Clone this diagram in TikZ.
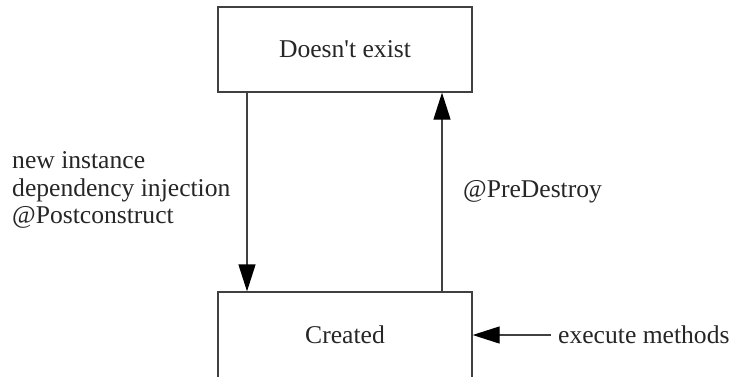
\documentclass[tikz,border=0pt]{standalone}
\usepackage{fontspec}
\setmainfont{Liberation Serif}
\usetikzlibrary{arrows.meta}

\begin{document}
\begin{tikzpicture}[x=1pt, y=-1pt,
    every node/.style={font=\fontsize{25.6}{27.5}\selectfont, text=black!85},
    statebox/.style={draw=black!75, line width=1.3pt, minimum width=254pt, inner sep=0pt},
    flow/.style={-{Triangle[length=27pt, width=17pt, color=black]}, line width=1.3pt, draw=black!75}]
    \useasboundingbox (0,0) rectangle (734,376);

    % The two states, the lower one runs past the bottom edge
    \node[statebox, minimum height=85pt] (none) at (345, 49.5) {Doesn\textquotesingle t exist};
    \node[statebox, minimum height=86pt] (created) at (345, 335) {Created};

    % Transition labels
    \node[anchor=west, align=left, inner sep=0pt] (createlbl) at (12, 190) {new instance\\dependency injection\\@Postconstruct};
    \node[anchor=west, inner sep=0pt] (destroylbl) at (463, 192) {@PreDestroy};
    \node[anchor=west, inner sep=0pt] (exec) at (558, 335) {execute methods};

    % Transitions
    \draw[flow] ([xshift=-98pt]none.south) -- ([xshift=-98pt]created.north);
    \draw[flow] ([xshift=97pt]created.north) -- ([xshift=97pt]none.south);
    \draw[flow] ([xshift=-7pt]exec.west) -- (created.east);
\end{tikzpicture}
\end{document}
